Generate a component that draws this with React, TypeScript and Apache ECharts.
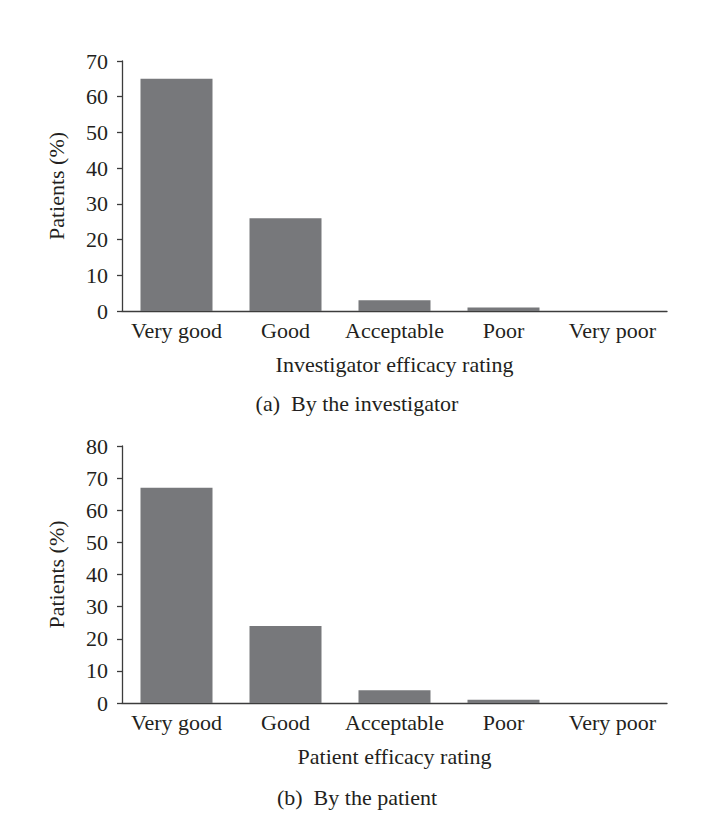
import React, { useEffect, useRef } from "react";
import * as echarts from "echarts";

const categories = ["Very good", "Good", "Acceptable", "Poor", "Very poor"];
const investigatorValues = [65, 26, 3, 1, 0];
const patientValues = [67, 24, 4, 1, 0];
const topAxisName = "Investigator efficacy rating";
const bottomAxisName = "Patient efficacy rating";
const yAxisName = "Patients (%)";
const captionA = "(a)  By the investigator";
const captionB = "(b)  By the patient";

const FONT = "'Liberation Serif', 'Times New Roman', serif";
const FS = 22;
const TEXT = "#231f20";
const AXIS = "#3c3c3c";
const BAR = "#77787b";

export default function App() {
  const ref = useRef<HTMLDivElement>(null);
  useEffect(() => {
    if (!ref.current) return;
    const chart = echarts.init(ref.current, null, { renderer: "svg" });
    const xAxisBase = (gridIndex: number, name: string) => ({
      type: "category",
      gridIndex,
      data: categories,
      name,
      nameLocation: "middle",
      nameGap: 42,
      nameTextStyle: { fontFamily: FONT, fontSize: FS, color: TEXT },
      axisLine: { lineStyle: { color: AXIS, width: 1.3 } },
      axisTick: { show: false },
      axisLabel: { fontFamily: FONT, fontSize: FS, color: TEXT, margin: 8, interval: 0 },
    });
    const yAxisBase = (gridIndex: number, max: number) => ({
      type: "value",
      gridIndex,
      min: 0,
      max,
      interval: 10,
      name: yAxisName,
      nameLocation: "middle",
      nameGap: 55,
      nameTextStyle: { fontFamily: FONT, fontSize: FS, color: TEXT },
      axisLine: { show: true, lineStyle: { color: AXIS, width: 1.3 } },
      axisTick: { show: true, length: 5, lineStyle: { color: AXIS, width: 1.3 } },
      splitLine: { show: false },
      axisLabel: { fontFamily: FONT, fontSize: FS, color: TEXT, margin: 14 },
    });
    chart.setOption({
      animation: false,
      backgroundColor: "#ffffff",
      grid: [
        { left: 122, top: 61, width: 545, height: 250 },
        { left: 122, top: 446, width: 545, height: 257 },
      ],
      xAxis: [xAxisBase(0, topAxisName), xAxisBase(1, bottomAxisName)],
      yAxis: [yAxisBase(0, 70), yAxisBase(1, 80)],
      series: [
        {
          type: "bar",
          xAxisIndex: 0,
          yAxisIndex: 0,
          data: investigatorValues,
          barWidth: 72,
          itemStyle: { color: BAR },
        },
        {
          type: "bar",
          xAxisIndex: 1,
          yAxisIndex: 1,
          data: patientValues,
          barWidth: 72,
          itemStyle: { color: BAR },
        },
      ],
      graphic: [
        {
          type: "text",
          x: 357,
          y: 403,
          style: {
            text: captionA,
            fontFamily: FONT,
            fontSize: FS,
            fill: TEXT,
            align: "center",
            verticalAlign: "middle",
          },
        },
        {
          type: "text",
          x: 357,
          y: 797,
          style: {
            text: captionB,
            fontFamily: FONT,
            fontSize: FS,
            fill: TEXT,
            align: "center",
            verticalAlign: "middle",
          },
        },
      ],
    });
    return () => chart.dispose();
  }, []);
  return (
    <div
      ref={ref}
      style={{ position: "absolute", left: 0, top: 0, width: 720, height: 831, background: "#fff" }}
    />
  );
}
